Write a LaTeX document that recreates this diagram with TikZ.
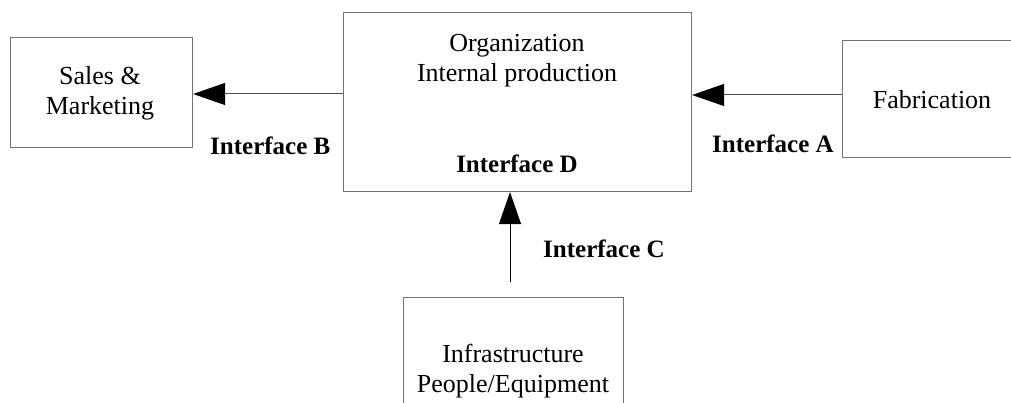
\documentclass[tikz,border=0pt]{standalone}
\usepackage{fontspec}
\setmainfont{Liberation Serif}
\usetikzlibrary{arrows.meta}
\begin{document}
\begin{tikzpicture}[x=1pt,y=-1pt,
  box/.style={draw=black!55, line width=1.1pt, inner sep=0pt, anchor=north west},
  txt/.style={inner sep=0pt, anchor=base, font=\fontsize{26}{30}\selectfont},
  lbl/.style={inner sep=0pt, anchor=base west, font=\fontsize{25}{30}\selectfont\bfseries},
  link/.style={draw=black!70, line width=1pt, -{Triangle[length=32pt,width=22pt,color=black]}}]
\useasboundingbox (0,0) rectangle (1011,403);
\clip (0,0) rectangle (1011,403);

% boxes
\node[box, minimum width=182pt, minimum height=110pt] (sales) at (10,37) {};
\node[box, minimum width=348pt, minimum height=179pt] (org) at (343,12) {};
\node[box, minimum width=200pt, minimum height=117pt] (fab) at (842,40) {};
\node[box, minimum width=220pt, minimum height=130pt] (infra) at (403,297) {};

% box texts
\node[txt] (salesA) at (100,85) {Sales \&};
\node[txt] (salesB) at (100,115) {Marketing};
\node[txt] (orgA) at (517,52) {Organization};
\node[txt] (orgB) at (517,82) {Internal production};
\node[txt] (fabA) at (932,109) {Fabrication};
\node[txt] (infraA) at (513,362) {Infrastructure};
\node[txt] (infraB) at (513,392) {People/Equipment};

% interface labels
\node[lbl] (ifB) at (210,155) {Interface B};
\node[lbl] (ifA) at (712,153) {Interface A};
\node[lbl] (ifC) at (543,258) {Interface C};
\node[lbl, anchor=base] (ifD) at (517,173) {Interface D};

% connectors
\coordinate (yb) at (0,94);
\coordinate (ya) at (0,95);
\coordinate (cstart) at (510,282);
\draw[link] (org.west |- yb) -- (sales.east |- yb);
\draw[link] (fab.west |- ya) -- (org.east |- ya);
\draw[link, draw=black] (cstart) -- (cstart |- org.south);
\end{tikzpicture}
\end{document}
